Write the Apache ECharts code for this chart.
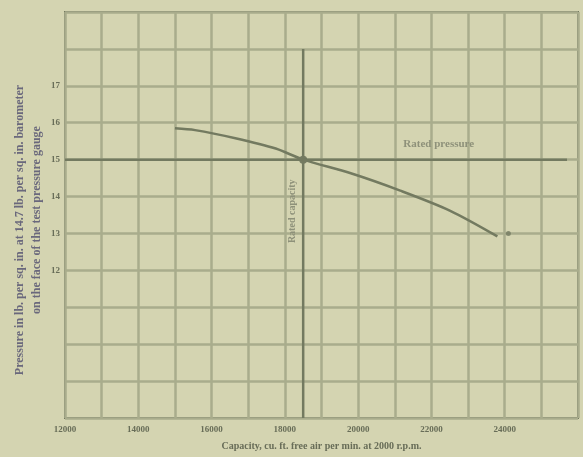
<!DOCTYPE html>
<html>
<head>
<meta charset="utf-8">
<script src="https://cdn.jsdelivr.net/npm/echarts@6/dist/echarts.min.js"></script>
<style>
  html, body { margin: 0; padding: 0; background: #d4d4b1; }
  #chart { width: 583px; height: 457px; }
</style>
</head>
<body>
<div id="chart"></div>
<script>
// Delivery curve: capacity (cu ft per min) against pressure (lb per sq in)
const capacity = [15000, 15550, 16650, 17750, 18500, 19800, 21150, 22500, 23800];
const pressure = [15.85, 15.8, 15.58, 15.3, 15.0, 14.63, 14.16, 13.62, 12.92];
const endMark = [[24100, 13.0]];

// Rated working point
const ratedCapacity = 18500;
const ratedPressure = 15;
const ratedLineEnd = 25700;
const ratedLineTop = 18;

// Axis ticks
const xTicks = [12000, 14000, 16000, 18000, 20000, 22000, 24000];
const yTicks = [12, 13, 14, 15, 16, 17];

const ink = '#737a60';
const gridInk = '#a9ac8c';
const textInk = '#686d58';
const noteInk = '#8e917a';
const titleInk = '#6a687c';
const font = 'Liberation Serif';

const chart = echarts.init(document.getElementById('chart'));
chart.setOption({
  backgroundColor: '#d4d4b1',
  animation: false,
  grid: {
    left: 65, right: 5, top: 12, bottom: 39,
    show: true, borderColor: ink, borderWidth: 2, backgroundColor: 'transparent'
  },
  xAxis: {
    type: 'value', min: 12000, max: 26000, interval: 1000,
    axisLine: { show: false }, axisTick: { show: false },
    splitLine: { lineStyle: { color: gridInk, width: 2.5 } },
    axisLabel: {
      margin: 7, color: textInk, fontFamily: font, fontWeight: 'bold', fontSize: 9,
      formatter: v => xTicks.includes(v) ? String(v) : ''
    },
    name: 'Capacity, cu. ft. free air per min. at 2000 r.p.m.',
    nameLocation: 'middle', nameGap: 23,
    nameTextStyle: { color: textInk, fontFamily: font, fontWeight: 'bold', fontSize: 10 }
  },
  yAxis: {
    type: 'value', min: 8, max: 19, interval: 1,
    axisLine: { show: false }, axisTick: { show: false },
    splitLine: { lineStyle: { color: gridInk, width: 2.5 } },
    axisLabel: {
      margin: 5, color: textInk, fontFamily: font, fontWeight: 'bold', fontSize: 9,
      formatter: v => yTicks.includes(v) ? String(v) : ''
    }
  },
  series: [
    {
      name: 'Rated pressure', type: 'line', silent: true, symbol: 'none',
      data: [[12000, ratedPressure], [ratedLineEnd, ratedPressure]],
      lineStyle: { color: ink, width: 2.5 },
      markPoint: {
        symbol: 'rect', symbolSize: 0,
        label: {
          show: true, formatter: 'Rated pressure', color: noteInk,
          fontFamily: font, fontWeight: 'bold', fontSize: 11, offset: [0, -15]
        },
        data: [{ coord: [22200, ratedPressure] }]
      }
    },
    {
      name: 'Rated capacity', type: 'line', silent: true, symbol: 'none',
      data: [[ratedCapacity, 8], [ratedCapacity, ratedLineTop]],
      lineStyle: { color: ink, width: 2.5 }
    },
    {
      name: 'Delivery', type: 'line', smooth: 0.3, symbol: 'none',
      data: capacity.map((c, i) => [c, pressure[i]]),
      lineStyle: { color: ink, width: 2.5 }
    },
    {
      name: 'Rated point', type: 'scatter', symbolSize: 8,
      data: [[ratedCapacity, ratedPressure]],
      itemStyle: { color: '#5f6650' }
    },
    {
      name: 'End', type: 'scatter', symbolSize: 5,
      data: endMark,
      itemStyle: { color: ink }
    }
  ]
});

// Axis title and the note along the rated-capacity line, placed from the axis scale
const notePos = chart.convertToPixel({ gridIndex: 0 }, [ratedCapacity, 13.6]);
chart.setOption({
  graphic: [
    {
      type: 'text', x: 20, y: 230, rotation: Math.PI / 2,
      style: {
        text: 'Pressure in lb. per sq. in. at 14.7 lb. per sq. in. barometer',
        fill: titleInk, font: 'bold 12px "Liberation Serif"',
        align: 'center', verticalAlign: 'middle'
      }
    },
    {
      type: 'text', x: 37, y: 220, rotation: Math.PI / 2,
      style: {
        text: 'on the face of the test pressure gauge',
        fill: titleInk, font: 'bold 12px "Liberation Serif"',
        align: 'center', verticalAlign: 'middle'
      }
    },
    {
      type: 'text', x: notePos[0] - 11, y: notePos[1], rotation: Math.PI / 2,
      style: {
        text: 'Rated capacity',
        fill: noteInk, font: 'bold 10px "Liberation Serif"',
        align: 'center', verticalAlign: 'middle'
      }
    }
  ]
});
</script>
</body>
</html>
